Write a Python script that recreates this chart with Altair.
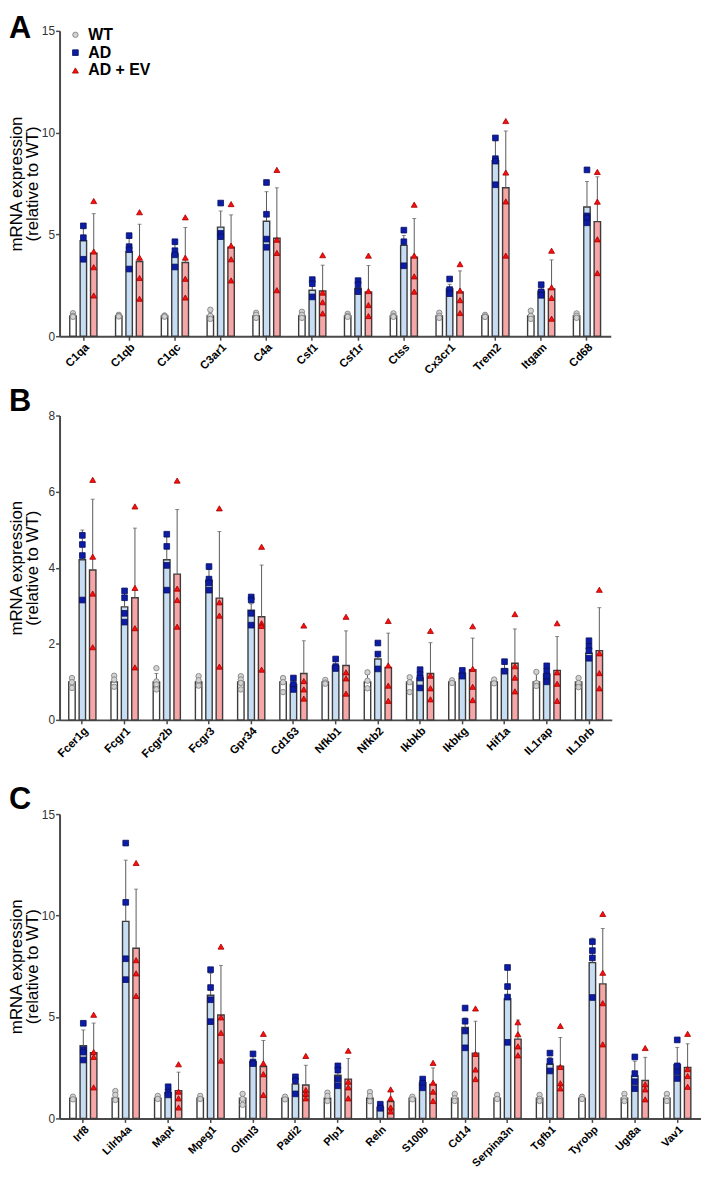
import altair as alt
import pandas as pd

GROUPS = ["WT", "AD", "AD + EV"]
FONT = "Liberation Sans"

# ---------------- Panel A ----------------
A_genes = ["C1qa", "C1qb", "C1qc", "C3ar1", "C4a", "Csf1", "Csf1r", "Ctss", "Cx3cr1", "Trem2", "Itgam", "Cd68"]
A_wt_mean = [1.0, 1.0, 1.0, 1.0, 1.0, 1.0, 1.0, 1.0, 1.0, 1.0, 1.0, 1.0]
A_wt_top = [1.08, 1.03, 1.02, 1.15, 1.1, 1.12, 1.06, 1.05, 1.1, 1.04, 1.12, 1.08]
A_wt_pts = [[1.13, 1.0, 0.95], [1.05, 1.0, 0.97], [1.02, 0.98, 0.96], [1.3, 1.0, 0.85],
            [1.15, 1.05, 0.9], [1.2, 1.05, 0.9], [1.1, 1.0, 0.95], [1.12, 1.0, 0.95],
            [1.15, 1.0, 0.9], [1.05, 0.97, 0.95], [1.25, 1.0, 0.85], [1.12, 1.0, 0.9]]
A_ad_mean = [4.69, 4.16, 4.04, 5.36, 5.65, 2.26, 2.35, 4.46, 2.32, 8.62, 2.21, 6.35]
A_ad_top = [5.3, 4.8, 4.5, 6.15, 7.1, 2.7, 2.75, 4.95, 2.55, 9.6, 2.45, 7.6]
A_ad_pts = [[5.42, 4.84, 3.78], [4.94, 4.4, 4.25, 3.3], [4.64, 4.2, 4.0, 3.4], [6.54, 5.05, 4.89],
            [7.55, 5.99, 4.77, 4.37], [2.78, 2.58, 1.93], [2.73, 2.53, 2.19], [5.21, 4.64, 3.46],
            [2.81, 2.29, 2.09], [9.74, 8.72, 8.6, 7.44], [2.53, 2.18, 2.01], [8.17, 5.91, 5.81, 5.57]]
A_ev_mean = [4.08, 3.67, 3.62, 4.37, 4.81, 2.22, 2.18, 3.88, 2.18, 7.29, 2.32, 5.63]
A_ev_top = [6.02, 5.5, 5.34, 5.96, 7.29, 3.49, 3.47, 5.78, 3.21, 10.08, 3.75, 7.83]
A_ev_pts = [[6.64, 4.16, 3.39, 2.0], [6.09, 3.86, 2.86, 1.84], [5.84, 3.86, 2.82, 1.9],
            [6.49, 4.45, 3.78, 2.74], [8.17, 4.74, 4.09, 2.26], [3.98, 2.14, 1.67, 1.12],
            [3.96, 2.22, 1.53, 0.99], [6.46, 3.96, 2.94, 2.19], [3.54, 2.24, 1.77, 1.14],
            [10.57, 8.04, 6.62, 3.96], [4.2, 2.4, 1.88, 0.86], [8.07, 6.61, 4.76, 3.1]]

# ---------------- Panel B ----------------
B_genes = ["Fcer1g", "Fcgr1", "Fcgr2b", "Fcgr3", "Gpr34", "Cd163", "Nfkb1", "Nfkb2", "Ikbkb", "Ikbkg", "Hif1a", "IL1rap", "IL10rb"]
B_wt_mean = [1.0, 1.0, 1.0, 1.0, 1.0, 1.0, 1.0, 1.0, 1.0, 1.0, 1.0, 1.0, 1.0]
B_wt_top = [1.1, 1.12, 1.22, 1.1, 1.1, 1.12, 1.05, 1.2, 1.1, 1.04, 1.06, 1.22, 1.1]
B_wt_pts = [[1.1, 0.99, 0.84], [1.16, 1.06, 0.87], [1.36, 1.01, 0.93, 0.8], [1.15, 1.04, 0.9],
            [1.15, 1.06, 0.97, 0.8], [1.1, 0.99, 0.73], [1.05, 0.98, 0.95], [1.25, 1.03, 0.83],
            [1.12, 0.99, 0.73], [1.04, 0.97], [1.06, 0.96], [1.26, 0.97, 0.89], [1.1, 0.97, 0.86]]
B_ad_mean = [4.21, 2.97, 4.21, 3.67, 2.88, 0.93, 1.42, 1.6, 1.1, 1.23, 1.34, 1.2, 1.75]
B_ad_top = [4.99, 3.35, 4.9, 3.95, 3.05, 1.05, 1.55, 1.75, 1.28, 1.3, 1.5, 1.38, 2.05]
B_ad_pts = [[4.85, 4.61, 4.32, 3.15], [3.39, 3.21, 2.8, 2.57], [4.88, 4.56, 4.06, 3.41],
            [4.03, 3.7, 3.6, 3.41], [3.23, 3.15, 2.8, 2.49], [1.1, 0.93, 0.8], [1.6, 1.4, 1.35],
            [2.02, 1.73, 1.34], [1.32, 1.19, 1.1, 0.84], [1.3, 1.15], [1.53, 1.28],
            [1.42, 1.28, 1.15, 1.0], [2.08, 1.93, 1.82, 1.62]]
B_ev_mean = [3.94, 3.21, 3.83, 3.2, 2.71, 1.22, 1.43, 1.38, 1.22, 1.32, 1.49, 1.3, 1.82]
B_ev_top = [5.8, 5.04, 5.53, 4.95, 4.07, 2.08, 2.34, 2.28, 2.03, 2.15, 2.39, 2.19, 2.95]
B_ev_pts = [[6.31, 4.29, 3.32, 1.91], [5.61, 3.47, 2.41, 1.38], [6.29, 3.45, 3.15, 2.45],
            [5.56, 3.09, 2.74, 1.4], [4.55, 2.54, 2.47, 1.32], [2.48, 1.02, 0.8, 0.56],
            [2.71, 1.25, 1.09, 0.69], [2.6, 1.43, 0.9, 0.5], [2.34, 1.16, 0.83, 0.54],
            [2.46, 1.34, 0.87, 0.52], [2.78, 1.41, 1.11, 0.75], [2.54, 1.25, 0.95, 0.5],
            [3.42, 1.75, 1.23, 0.83]]

# ---------------- Panel C ----------------
C_genes = ["Irf8", "Lilrb4a", "Mapt", "Mpeg1", "Olfml3", "Padi2", "Plp1", "Reln", "S100b", "Cd14",
           "Serpina3n", "Tgfb1", "Tyrobp", "Ugt8a", "Vav1"]
C_wt_mean = [1.0, 1.0, 1.0, 1.0, 1.0, 1.0, 1.0, 1.0, 1.0, 1.0, 1.0, 1.0, 1.0, 1.0, 1.0]
C_wt_top = [1.08, 1.2, 1.1, 1.1, 1.2, 1.06, 1.2, 1.22, 1.06, 1.18, 1.1, 1.15, 1.05, 1.18, 1.18]
C_wt_pts = [[1.07, 0.94], [1.35, 1.16, 0.91], [1.11, 0.96], [1.11, 0.96], [1.21, 0.96, 0.67],
            [1.07, 0.94], [1.27, 1.11, 0.86], [1.3, 1.1, 0.85], [1.07, 0.94], [1.21, 0.99, 0.86],
            [1.16, 0.96], [1.16, 0.96, 0.86], [1.07, 0.96], [1.21, 0.99, 0.86], [1.21, 0.99, 0.86]]
C_ad_mean = [3.58, 9.71, 1.27, 6.07, 2.8, 1.69, 2.13, 0.54, 1.76, 4.48, 5.9, 2.67, 7.68, 2.1, 2.65]
C_ad_top = [4.36, 12.73, 1.45, 7.15, 3.1, 2.0, 2.55, 0.65, 1.95, 4.95, 7.45, 3.0, 8.89, 2.82, 3.5]
C_ad_pts = [[4.69, 3.39, 3.27, 2.88], [13.57, 10.65, 7.87, 6.84], [1.56, 1.3, 1.16],
            [7.33, 6.45, 5.85, 4.77], [3.18, 2.78, 2.7], [2.05, 1.86, 1.21], [2.59, 2.38, 1.94, 1.61],
            [0.7, 0.5], [1.94, 1.73, 1.51], [5.44, 4.79, 4.31, 3.48], [7.44, 6.5, 5.98, 3.75],
            [3.22, 2.82, 2.34], [8.71, 8.27, 7.91, 5.96], [3.03, 2.21, 1.81, 1.47], [3.87, 2.59, 2.3, 1.97]]
C_ev_mean = [3.24, 8.39, 1.37, 5.1, 2.56, 1.65, 1.94, 0.83, 1.68, 3.22, 3.91, 2.57, 6.63, 1.87, 2.51]
C_ev_top = [4.7, 11.3, 2.28, 7.54, 3.84, 2.62, 2.95, 1.35, 2.49, 4.79, 4.85, 3.99, 9.36, 3.01, 3.68]
C_ev_pts = [[5.11, 3.27, 3.03, 1.53], [12.59, 7.8, 7.15, 6.04], [2.67, 1.32, 0.99, 0.54],
            [8.47, 4.98, 4.22, 2.85], [4.17, 2.72, 2.18, 1.16], [3.08, 1.4, 1.21, 0.99],
            [3.34, 1.81, 1.53, 0.99], [1.43, 0.99, 0.54, 0.34], [2.74, 1.76, 1.32, 0.86],
            [5.42, 3.18, 2.41, 1.94], [4.74, 4.15, 3.55, 3.11], [4.56, 2.54, 1.73, 1.48],
            [10.08, 7.18, 5.68, 3.65], [3.47, 1.68, 1.43, 0.94], [4.17, 2.43, 2.09, 1.56]]

BAR_FILL = {"WT": "#ffffff", "AD": "#c7ddf4", "AD + EV": "#f6a6a6"}
PT_FILL = ["#d2d2d2", "#0d1ca6", "#ff0d0d"]
PT_STROKE = ["#7a7a7a", "#08105e", "#a00000"]
PT_SHAPE = ["circle", "square", "triangle-up"]
PT_SIZE = [30, 36, 50]
AXIS_COLOR = "#4a4a4a"


def build_frames(genes, wt_mean, wt_top, wt_pts, ad_mean, ad_top, ad_pts, ev_mean, ev_top, ev_pts):
    bar_rows, pt_rows = [], []
    for i, g in enumerate(genes):
        for grp, m, t, pts in ((GROUPS[0], wt_mean[i], wt_top[i], wt_pts[i]),
                               (GROUPS[1], ad_mean[i], ad_top[i], ad_pts[i]),
                               (GROUPS[2], ev_mean[i], ev_top[i], ev_pts[i])):
            bar_rows.append({"gene": g, "group": grp, "mean": m, "top": t})
            for v in pts:
                pt_rows.append({"gene": g, "group": grp, "value": v})
    return pd.DataFrame(bar_rows), pd.DataFrame(pt_rows)


def panel(letter, letter_y, genes, frames, ymax, yticks, width, height, yrange, title_y,
          pad_inner, pad_outer, show_legend, xlabel_size):
    bars_df, pts_df = frames
    xenc = alt.X("gene:N", sort=genes,
                 scale=alt.Scale(domain=genes, paddingInner=pad_inner, paddingOuter=pad_outer),
                 axis=alt.Axis(title=None, labelAngle=-45, labelFontWeight="bold",
                               labelFontSize=xlabel_size, labelFont=FONT, labelColor="#000",
                               labelPadding=1, domainColor=AXIS_COLOR, domainWidth=2,
                               tickColor=AXIS_COLOR, tickWidth=1.5, tickSize=4))
    xoff = alt.XOffset("group:N", sort=GROUPS,
                       scale=alt.Scale(domain=GROUPS, paddingInner=0.38, paddingOuter=0.19))
    yscale = alt.Scale(domain=[0, ymax], range=yrange, nice=False, zero=True)
    yaxis = alt.Axis(values=yticks, title=["mRNA expression", "(relative to WT)"],
                     titleFontSize=17, titleFontWeight="normal", titleFont=FONT, titleColor="#000",
                     titleAngle=270, titleX=-51, titleY=title_y, titleAlign="center",
                     titleBaseline="top", titleLineHeight=16,
                     labelFontSize=12, labelFont=FONT, labelColor="#333", labelPadding=1,
                     domainColor=AXIS_COLOR, domainWidth=2, tickColor=AXIS_COLOR, tickWidth=1.5,
                     tickSize=4, grid=False)

    base = alt.Chart(bars_df)
    fill_rule = (alt.when(alt.datum.group == "WT").then(alt.value(BAR_FILL["WT"]))
                 .when(alt.datum.group == "AD").then(alt.value(BAR_FILL["AD"]))
                 .otherwise(alt.value(BAR_FILL["AD + EV"])))
    bars = base.mark_bar(stroke="#3c3c3c", strokeWidth=1.4).encode(
        x=xenc, xOffset=xoff, y=alt.Y("mean:Q", scale=yscale, axis=yaxis), fill=fill_rule)
    err = base.mark_rule(color="#5a5a5a", strokeWidth=1).encode(
        x=xenc, xOffset=xoff, y=alt.Y("mean:Q", scale=yscale, axis=yaxis), y2="top:Q")
    caps = base.mark_tick(color="#5a5a5a", size=4, thickness=1).encode(
        x=xenc, xOffset=xoff, y=alt.Y("top:Q", scale=yscale, axis=yaxis))

    if show_legend:
        leg = alt.Legend(orient="none", legendX=8, legendY=-4, padding=0, rowPadding=2,
                         title=None, labelFontSize=16, labelFontWeight="bold", labelFont=FONT,
                         labelColor="#000", labelOffset=5, symbolStrokeWidth=0.8)
    else:
        leg = None
    points = alt.Chart(pts_df).mark_point(filled=True, strokeWidth=0.8, opacity=1).encode(
        x=xenc, xOffset=xoff, y=alt.Y("value:Q", scale=yscale, axis=yaxis),
        shape=alt.Shape("group:N", scale=alt.Scale(domain=GROUPS, range=PT_SHAPE), legend=leg),
        fill=alt.Fill("group:N", scale=alt.Scale(domain=GROUPS, range=PT_FILL), legend=leg),
        stroke=alt.Stroke("group:N", scale=alt.Scale(domain=GROUPS, range=PT_STROKE), legend=leg),
        size=alt.Size("group:N", scale=alt.Scale(domain=GROUPS, range=PT_SIZE), legend=leg))

    lab = alt.Chart(pd.DataFrame({"t": [letter]})).mark_text(
        font=FONT, fontSize=31, fontWeight="bold", align="left", baseline="top", color="#000"
    ).encode(text="t:N", x=alt.value(-51), y=alt.value(letter_y))

    return alt.layer(bars, err, caps, points, lab).properties(width=width, height=height)


A = panel("A", -17, A_genes,
          build_frames(A_genes, A_wt_mean, A_wt_top, A_wt_pts, A_ad_mean, A_ad_top, A_ad_pts,
                       A_ev_mean, A_ev_top, A_ev_pts),
          15, [0, 5, 10, 15], 556, 308, [308, 0], 154, 0.32, 0.18, True, 11.5)
B = panel("B", -29, B_genes,
          build_frames(B_genes, B_wt_mean, B_wt_top, B_wt_pts, B_ad_mean, B_ad_top, B_ad_pts,
                       B_ev_mean, B_ev_top, B_ev_pts),
          8, [0, 2, 4, 6, 8], 557, 307, [307, 0], 153.5, 0.262, 0.171, False, 11.5)
C = panel("C", -14, C_genes,
          build_frames(C_genes, C_wt_mean, C_wt_top, C_wt_pts, C_ad_mean, C_ad_top, C_ad_pts,
                       C_ev_mean, C_ev_top, C_ev_pts),
          15, [0, 5, 10, 15], 647, 322, [322, 15], 168.5, 0.266, 0.193, False, 11)

chart = (alt.vconcat(A, B, C, spacing=80, bounds="flush")
         .resolve_scale(shape="independent", fill="independent", stroke="independent",
                        size="independent")
         .resolve_legend(shape="independent", fill="independent", stroke="independent",
                         size="independent")
         .properties(padding=0)
         .configure(font=FONT)
         .configure_view(stroke=None, strokeWidth=0))

chart.save("out.html", embed_options={"renderer": "svg", "actions": False})
